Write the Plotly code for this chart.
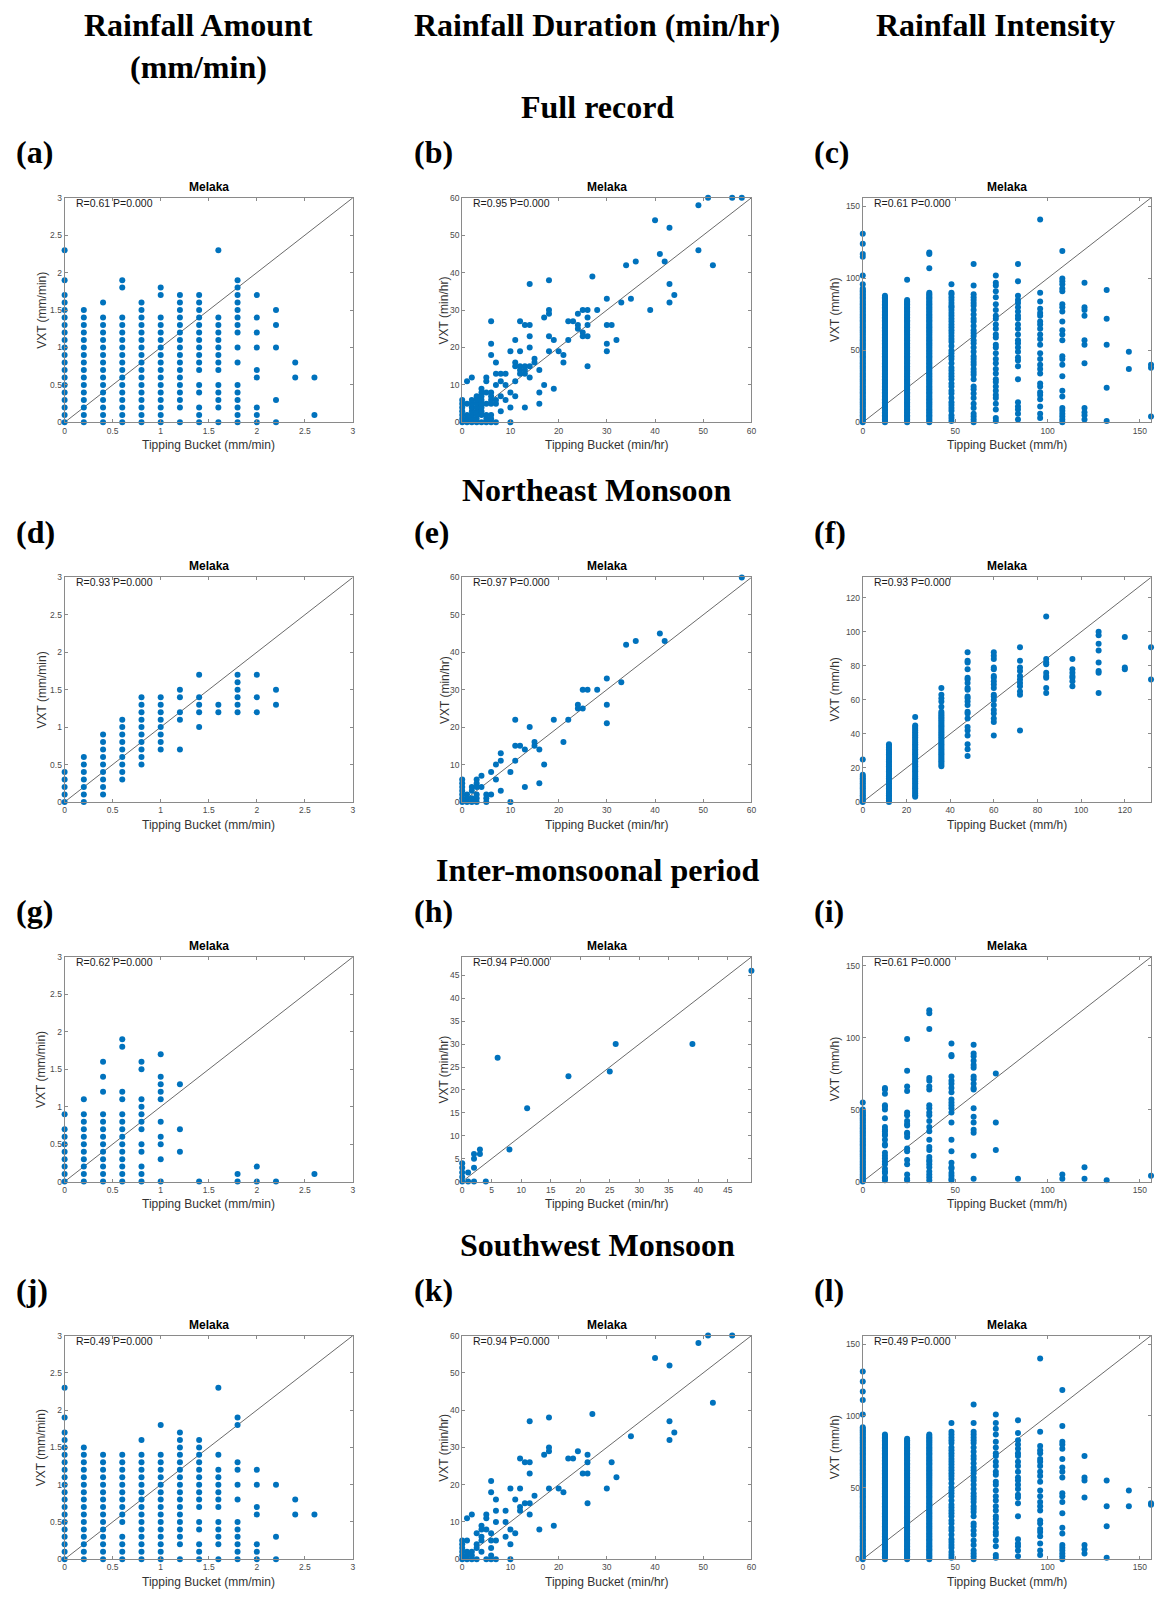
import plotly.graph_objects as go

W, H = 1159, 1597

# ---------------- Rainfall amount (mm/min) ----------------
amt_full_x = [0, 0.2, 0.4, 0.6, 0.8, 1.0, 1.2, 1.4, 1.6, 1.8, 2.0, 2.2, 2.4, 2.6]
amt_full_y = [
    [0, .1, .2, .3, .4, .5, .6, .7, .8, .9, 1, 1.1, 1.2, 1.3, 1.4, 1.5, 1.6, 1.7, 1.9, 2.3],
    [0, .1, .2, .3, .4, .5, .6, .7, .8, .9, 1, 1.1, 1.2, 1.3, 1.4, 1.5],
    [0, .1, .2, .3, .4, .5, .6, .7, .8, .9, 1, 1.1, 1.2, 1.3, 1.4, 1.6],
    [0, .1, .2, .3, .4, .5, .6, .7, .8, .9, 1, 1.1, 1.2, 1.3, 1.4, 1.8, 1.9],
    [0, .1, .2, .3, .4, .5, .6, .7, .8, .9, 1, 1.1, 1.2, 1.3, 1.4, 1.5, 1.6],
    [0, .1, .2, .3, .4, .5, .6, .7, .8, .9, 1, 1.1, 1.2, 1.3, 1.4, 1.7, 1.8],
    [0, .2, .3, .4, .5, .6, .7, .8, .9, 1, 1.1, 1.2, 1.3, 1.4, 1.5, 1.6, 1.7],
    [0, .1, .2, .4, .5, .7, .8, .9, 1, 1.1, 1.2, 1.3, 1.4, 1.5, 1.6, 1.7],
    [0, .2, .3, .4, .5, .7, .8, .9, 1, 1.1, 1.2, 1.3, 1.4, 2.3],
    [0, .1, .2, .3, .4, .5, .8, 1, 1.2, 1.3, 1.4, 1.5, 1.6, 1.7, 1.8, 1.9],
    [0, .1, .2, .6, .7, 1, 1.2, 1.4, 1.7],
    [0, .3, 1, 1.3, 1.5],
    [.6, .8],
    [.1, .6],
]
amt_ne_x = [0, 0.2, 0.4, 0.6, 0.8, 1.0, 1.2, 1.4, 1.6, 1.8, 2.0, 2.2]
amt_ne_y = [
    [0, .1, .2, .3, .4],
    [0, .1, .2, .3, .4, .5, .6],
    [.1, .2, .3, .4, .5, .6, .7, .8, .9],
    [.3, .4, .5, .6, .7, .8, .9, 1, 1.1],
    [.5, .6, .7, .8, .9, 1, 1.1, 1.2, 1.3, 1.4],
    [.7, .8, .9, 1, 1.1, 1.2, 1.3, 1.4],
    [.7, 1.1, 1.2, 1.4, 1.5],
    [1, 1.2, 1.3, 1.4, 1.7],
    [1.2, 1.3],
    [1.2, 1.3, 1.4, 1.5, 1.6, 1.7],
    [1.2, 1.4, 1.7],
    [1.3, 1.5],
]
amt_im_x = [0, 0.2, 0.4, 0.6, 0.8, 1.0, 1.2, 1.4, 1.8, 2.0, 2.2, 2.6]
amt_im_y = [
    [0, .1, .2, .3, .4, .5, .6, .7, .9],
    [0, .1, .2, .3, .4, .5, .6, .7, .8, .9, 1.1],
    [0, .1, .2, .3, .4, .5, .6, .7, .8, .9, 1.2, 1.4, 1.6],
    [0, .1, .2, .3, .4, .5, .6, .7, .8, .9, 1.1, 1.2, 1.8, 1.9],
    [0, .1, .2, .4, .5, .7, .8, .9, 1, 1.1, 1.5, 1.6],
    [0, .3, .5, .6, .8, 1.1, 1.2, 1.3, 1.4, 1.7],
    [.4, .7, 1.3],
    [0],
    [0, .1],
    [0, .2],
    [0],
    [.1],
]
amt_sw_x = [0, 0.2, 0.4, 0.6, 0.8, 1.0, 1.2, 1.4, 1.6, 1.8, 2.0, 2.2, 2.4, 2.6]
amt_sw_y = [
    [0, .1, .2, .3, .4, .5, .6, .7, .8, .9, 1, 1.1, 1.2, 1.3, 1.4, 1.5, 1.6, 1.7, 1.9, 2.3],
    [0, .1, .2, .3, .4, .5, .6, .7, .8, .9, 1, 1.1, 1.2, 1.3, 1.4, 1.5],
    [0, .1, .2, .3, .4, .5, .6, .7, .8, .9, 1, 1.1, 1.2, 1.3, 1.4],
    [0, .1, .2, .3, .5, .6, .7, .8, .9, 1, 1.1, 1.2, 1.3, 1.4],
    [0, .1, .2, .3, .4, .5, .6, .7, .8, .9, 1, 1.1, 1.2, 1.3, 1.4, 1.6],
    [0, .1, .2, .3, .4, .5, .6, .7, .8, .9, 1, 1.1, 1.2, 1.3, 1.4, 1.8],
    [0, .2, .3, .4, .5, .6, .7, .8, .9, 1, 1.1, 1.2, 1.3, 1.4, 1.5, 1.6, 1.7],
    [0, .1, .2, .4, .5, .7, .8, .9, 1, 1.1, 1.2, 1.3, 1.4, 1.5, 1.6],
    [0, .2, .3, .4, .5, .7, .8, .9, 1, 1.1, 1.2, 1.4, 2.3],
    [0, .1, .2, .3, .4, .5, .8, 1, 1.2, 1.3, 1.8, 1.9],
    [0, .1, .2, .6, .7, 1, 1.2],
    [0, .3, 1],
    [.6, .8],
    [.6],
]

# ---------------- Rainfall duration (min/hr): (tipping bucket, VXT) ----------------
dur_full_pts = [
    (49, 58), (51, 60), (56, 60), (58, 60), (40, 54), (43, 52), (49, 46), (52, 42), (41, 45), (42, 43),
    (36, 43), (34, 42), (43, 37), (44, 34), (43, 32), (39, 30), (35, 33), (33, 32), (27, 39), (30, 33),
    (28, 30), (30, 26), (31, 26), (32, 22), (30, 21), (30, 19), (25, 30), (26, 30), (24, 29), (26, 28),
    (24, 26), (26, 26), (24, 25), (25, 24), (25, 23), (26, 23), (22, 27), (23, 27), (22, 22), (26, 15),
    (21, 18), (21, 16), (20, 19), (19, 22), (18, 19), (18, 23), (18, 30), (18, 29), (18, 38), (17, 28),
    (17, 10), (19, 9), (14, 37), (12, 27), (13, 26), (14, 26), (14, 23), (14, 20), (11, 22), (12, 19),
    (10, 19), (11, 16), (11, 15), (12, 15), (13, 15), (14, 15), (15, 17), (15, 16), (12, 14), (13, 14),
    (12, 13), (13, 13), (14, 12), (16, 14), (16, 8), (16, 5), (13, 4), (11, 11), (11, 7), (10, 4),
    (10, 0), (10, 8), (6, 27), (6, 21), (6, 18), (7, 16), (7, 13), (8, 13), (9, 13), (8, 11),
    (7, 10), (9, 10), (9, 6), (8, 7), (8, 3), (1, 11), (2, 12), (5, 12), (5, 11), (4, 9),
    (4, 8), (5, 8), (6, 8), (3, 7), (4, 7),
    (0, 0), (0, 1), (0, 2), (0, 3), (0, 4), (0, 5), (0, 6), (1, 0), (1, 1), (1, 2), (1, 5),
    (2, 0), (2, 1), (2, 2), (2, 3), (2, 4), (2, 5), (2, 6), (3, 0), (3, 1), (3, 2), (3, 3), (3, 4),
    (3, 5), (3, 6), (4, 0), (4, 2), (4, 3), (4, 4), (4, 5), (4, 6), (5, 0), (5, 1), (5, 2), (5, 5),
    (6, 0), (6, 1), (6, 2), (6, 5), (6, 6), (6, 7), (7, 0), (7, 5), (7, 6),
]
dur_ne_pts = [
    (58, 60), (41, 45), (42, 43), (36, 43), (34, 42), (33, 32), (30, 33), (30, 26), (30, 21), (28, 30),
    (26, 30), (25, 30), (25, 25), (24, 26), (24, 25), (22, 22), (19, 22), (21, 16), (11, 22), (14, 20),
    (11, 15), (12, 15), (15, 16), (15, 15), (13, 14), (16, 14), (11, 11), (17, 10), (10, 8), (16, 5),
    (13, 4), (10, 0), (8, 13), (8, 11), (7, 10), (7, 6), (6, 8), (6, 2), (8, 3), (4, 7), (5, 2),
    (5, 1), (5, 0), (4, 4), (3, 6), (3, 5), (3, 4), (3, 2), (3, 1), (3, 0), (2, 4), (2, 3), (2, 1),
    (2, 0), (1, 2), (1, 1), (1, 0), (0, 0), (0, 1), (0, 2), (0, 3), (0, 4), (0, 5), (0, 6),
]
dur_im_pts = [
    (49, 46), (39, 30), (26, 30), (25, 24), (18, 23), (11, 16), (6, 27), (8, 7), (3, 7), (3, 6),
    (2, 6), (2, 5), (2, 3), (1, 2), (2, 0), (4, 0), (1, 0), (0, 0), (0, 1), (0, 2), (0, 3), (0, 4),
]
dur_sw_pts = [
    (49, 58), (51, 60), (56, 60), (40, 54), (43, 52), (52, 42), (43, 37), (44, 34), (43, 32), (35, 33),
    (27, 39), (31, 26), (32, 22), (30, 19), (24, 29), (26, 28), (26, 26), (22, 27), (23, 27), (25, 23),
    (26, 23), (26, 15), (21, 18), (20, 19), (18, 19), (18, 30), (18, 29), (18, 38), (17, 28), (19, 9),
    (16, 8), (14, 37), (12, 27), (13, 26), (14, 26), (14, 23), (12, 19), (10, 19), (11, 16), (15, 17),
    (13, 15), (14, 15), (12, 14), (12, 13), (14, 12), (11, 7), (10, 8), (10, 4), (10, 0), (6, 21),
    (6, 18), (7, 16), (7, 13), (9, 13), (9, 10), (7, 10), (9, 6), (1, 11), (2, 12), (5, 12), (5, 11),
    (0, 0), (0, 1), (0, 2), (0, 3), (0, 4), (0, 5), (1, 0), (1, 1), (1, 2), (1, 5), (2, 0), (2, 1),
    (2, 2), (3, 0), (3, 3), (3, 4), (3, 7), (4, 2), (4, 5), (4, 6), (4, 8), (4, 9), (5, 0), (5, 8),
    (6, 0), (6, 1), (6, 3), (6, 5), (6, 7), (7, 0), (7, 5),
]

# ---------------- Rainfall intensity (mm/h) ----------------
int_full_x = [0, 12, 24, 36, 48, 60, 72, 84, 96, 108, 120, 132, 144, 156]
int_full_y = [
    [0, 1, 2, 3, 4, 5, 6, 7, 8, 9, 10, 11, 12, 13, 14, 15, 16, 17, 18, 19, 20, 21, 22, 23, 24, 25, 26, 27, 28,
     29, 30, 31, 32, 33, 34, 35, 36, 37, 38, 39, 40, 41, 42, 43, 44, 45, 46, 47, 48, 49, 50, 51, 52, 53, 54,
     55, 56, 57, 58, 59, 60, 61, 62, 63, 64, 65, 66, 67, 68, 69, 70, 71, 72, 73, 74, 75, 76, 77, 78, 79, 80,
     81, 82, 83, 84, 85, 86, 87, 88, 89, 90, 91, 92, 93, 96, 102, 115, 117, 124, 131],
    [0, 1, 2, 3, 4, 5, 6, 7, 8, 9, 10, 11, 12, 13, 14, 15, 16, 17, 18, 19, 20, 21, 22, 23, 24, 25, 26, 27, 28,
     29, 30, 31, 32, 33, 34, 35, 36, 37, 38, 39, 40, 41, 42, 43, 44, 45, 46, 47, 48, 49, 50, 51, 52, 53, 54,
     55, 56, 57, 58, 59, 60, 61, 62, 63, 64, 65, 66, 67, 68, 69, 70, 71, 72, 73, 74, 75, 76, 77, 78, 79, 80,
     81, 82, 83, 84, 85, 86, 87, 88],
    [0, 1, 2, 3, 4, 5, 6, 7, 8, 9, 10, 11, 12, 13, 14, 15, 16, 17, 18, 19, 20, 21, 22, 23, 24, 25, 26, 27, 28,
     29, 30, 31, 32, 33, 34, 35, 36, 37, 38, 39, 40, 41, 42, 43, 44, 45, 46, 47, 48, 49, 50, 51, 52, 53, 54,
     55, 56, 57, 58, 59, 60, 61, 62, 63, 64, 65, 66, 67, 68, 69, 70, 71, 72, 73, 74, 75, 76, 77, 78, 79, 80,
     81, 82, 83, 84, 85, 99],
    [0, 1, 2, 3, 4, 5, 6, 7, 8, 9, 10, 11, 12, 13, 14, 15, 16, 17, 18, 19, 20, 21, 22, 23, 24, 25, 26, 27, 28,
     29, 30, 31, 32, 33, 34, 35, 36, 37, 38, 39, 40, 41, 42, 43, 44, 45, 46, 47, 48, 49, 50, 51, 52, 53, 54,
     55, 56, 57, 58, 59, 60, 61, 62, 63, 64, 65, 66, 67, 68, 69, 70, 71, 72, 73, 74, 75, 76, 77, 78, 79, 80,
     81, 82, 83, 84, 85, 86, 87, 88, 89, 90, 107, 117, 118],
    [1, 3, 5, 8, 10, 12, 14, 17, 20, 22, 25, 27, 30, 32, 34, 36, 38, 41, 44, 46, 48, 50, 53, 56, 58, 60, 62,
     64, 66, 68, 70, 72, 74, 76, 78, 80, 81, 83, 85, 87, 89, 90, 96],
    [0, 2, 4, 6, 10, 13, 17, 20, 23, 25, 30, 33, 35, 37, 40, 42, 44, 46, 49, 52, 55, 57, 60, 62, 64, 67, 70,
     72, 75, 78, 81, 83, 85, 87, 89, 95, 110],
    [1, 3, 9, 13, 17, 19, 22, 25, 28, 30, 34, 37, 41, 44, 48, 52, 54, 59, 61, 65, 68, 72, 74, 78, 82, 87, 91,
     95, 97, 102],
    [2, 6, 9, 11, 14, 30, 39, 43, 45, 49, 52, 55, 57, 61, 65, 68, 72, 74, 77, 80, 83, 85, 88, 98, 110],
    [3, 6, 11, 16, 19, 21, 25, 27, 34, 37, 40, 44, 48, 54, 58, 61, 65, 68, 70, 74, 76, 79, 84, 90, 141],
    [0, 2, 4, 6, 8, 10, 18, 22, 32, 40, 44, 46, 57, 61, 64, 70, 77, 80, 82, 91, 93, 96, 98, 100, 119],
    [2, 5, 7, 10, 41, 54, 57, 74, 78, 80, 97],
    [1, 24, 54, 72, 92],
    [37, 49],
    [4, 38, 40],
]
int_ne_x = [0, 12, 24, 36, 48, 60, 72, 84, 96, 108, 120, 132]
int_ne_y = [
    [0, 1, 2, 3, 4, 5, 6, 7, 8, 9, 10, 11, 12, 13, 14, 15, 16, 25],
    [0, 1, 2, 3, 4, 5, 6, 7, 8, 9, 10, 11, 12, 13, 14, 15, 16, 17, 18, 19, 20, 21, 22, 23, 24, 25, 26, 27, 28,
     29, 30, 31, 32, 33, 34],
    [3, 4, 5, 6, 7, 8, 9, 10, 11, 12, 13, 14, 15, 16, 17, 18, 19, 20, 21, 22, 23, 24, 25, 26, 27, 28, 29, 30,
     31, 32, 33, 34, 35, 36, 37, 38, 39, 40, 41, 42, 43, 44, 45, 50],
    [21, 22, 23, 24, 25, 26, 27, 28, 29, 30, 31, 32, 33, 34, 35, 36, 37, 38, 39, 40, 41, 42, 43, 44, 45, 46,
     47, 48, 49, 50, 51, 52, 53, 56, 59, 61, 63, 67],
    [27, 31, 34, 39, 42, 44, 49, 52, 53, 57, 59, 61, 62, 66, 67, 70, 72, 73, 78, 82, 83, 88],
    [39, 47, 49, 52, 54, 57, 60, 62, 63, 67, 69, 71, 73, 74, 78, 79, 84, 86, 88],
    [42, 63, 65, 68, 70, 72, 74, 77, 79, 83, 91],
    [64, 67, 73, 74, 76, 81, 82, 84, 109],
    [68, 71, 73, 74, 76, 78, 84],
    [64, 76, 77, 82, 89, 93, 98, 100],
    [78, 79, 97],
    [72, 91],
]
int_im_x = [0, 12, 24, 36, 48, 60, 72, 84, 108, 120, 132, 156]
int_im_y = [
    [0, 1, 2, 3, 4, 5, 6, 7, 8, 9, 10, 11, 12, 13, 14, 15, 16, 17, 18, 19, 20, 21, 22, 23, 24, 25, 26, 27, 28,
     29, 30, 31, 32, 33, 34, 35, 36, 37, 38, 39, 40, 41, 42, 43, 44, 45, 46, 47, 48, 49, 50, 55],
    [1, 2, 3, 6, 7, 9, 12, 14, 16, 18, 20, 25, 26, 29, 32, 33, 35, 36, 38, 44, 50, 52, 53, 61, 64, 65],
    [1, 2, 5, 12, 15, 21, 23, 31, 33, 34, 39, 40, 42, 46, 48, 63, 66, 77, 99],
    [1, 3, 5, 7, 10, 12, 14, 15, 17, 22, 24, 29, 35, 38, 42, 46, 48, 51, 53, 64, 66, 70, 72, 106, 117, 119],
    [1, 2, 4, 6, 9, 10, 13, 21, 29, 41, 48, 51, 53, 55, 57, 62, 65, 68, 70, 73, 87, 88, 96],
    [2, 18, 34, 36, 41, 45, 51, 64, 65, 68, 71, 73, 79, 81, 84, 87, 89, 95],
    [22, 41, 75],
    [2],
    [2, 5],
    [2, 10],
    [1],
    [4],
]
int_sw_x = [0, 12, 24, 36, 48, 60, 72, 84, 96, 108, 120, 132, 144, 156]
int_sw_y = [
    [0, 1, 2, 3, 4, 5, 6, 7, 8, 9, 10, 11, 12, 13, 14, 15, 16, 17, 18, 19, 20, 21, 22, 23, 24, 25, 26, 27, 28,
     29, 30, 31, 32, 33, 34, 35, 36, 37, 38, 39, 40, 41, 42, 43, 44, 45, 46, 47, 48, 49, 50, 51, 52, 53, 54,
     55, 56, 57, 58, 59, 60, 61, 62, 63, 64, 65, 66, 67, 68, 69, 70, 71, 72, 73, 74, 75, 76, 77, 78, 79, 80,
     81, 82, 83, 84, 85, 86, 87, 88, 89, 90, 91, 92, 101, 111, 117, 124, 131],
    [0, 1, 2, 3, 4, 5, 6, 7, 8, 9, 10, 11, 12, 13, 14, 15, 16, 17, 18, 19, 20, 21, 22, 23, 24, 25, 26, 27, 28,
     29, 30, 31, 32, 33, 34, 35, 36, 37, 38, 39, 40, 41, 42, 43, 44, 45, 46, 47, 48, 49, 50, 51, 52, 53, 54,
     55, 56, 57, 58, 59, 60, 61, 62, 63, 64, 65, 66, 67, 68, 69, 70, 71, 72, 73, 74, 75, 76, 77, 78, 79, 80,
     81, 82, 83, 84, 85, 86, 87],
    [0, 1, 2, 3, 4, 5, 6, 7, 8, 9, 10, 11, 12, 13, 14, 15, 16, 17, 18, 19, 20, 21, 22, 23, 24, 25, 26, 27, 28,
     29, 30, 31, 32, 33, 34, 35, 36, 37, 38, 39, 40, 41, 42, 43, 44, 45, 46, 47, 48, 49, 50, 51, 52, 53, 54,
     55, 56, 57, 58, 59, 60, 61, 62, 63, 64, 65, 66, 67, 68, 69, 70, 71, 72, 73, 74, 75, 76, 77, 78, 79, 80,
     81, 82, 83, 84],
    [0, 1, 2, 3, 4, 5, 6, 7, 8, 9, 10, 11, 12, 13, 14, 15, 16, 17, 18, 19, 20, 21, 22, 23, 24, 25, 26, 27, 28,
     29, 30, 31, 32, 33, 34, 35, 36, 37, 38, 39, 40, 41, 42, 43, 44, 45, 46, 47, 48, 49, 50, 51, 52, 53, 54,
     55, 56, 57, 58, 59, 60, 61, 62, 63, 64, 65, 66, 67, 68, 69, 70, 71, 72, 73, 74, 75, 76, 77, 78, 79, 80,
     81, 82, 83, 84, 85, 86, 87],
    [1, 3, 5, 8, 10, 12, 14, 17, 20, 22, 25, 27, 30, 32, 34, 36, 38, 41, 44, 46, 48, 50, 53, 56, 58, 60, 62,
     64, 66, 68, 70, 72, 74, 76, 78, 81, 83, 85, 87, 89, 95],
    [0, 2, 4, 6, 10, 13, 17, 20, 23, 25, 30, 33, 35, 37, 40, 42, 44, 46, 49, 52, 55, 57, 60, 62, 64, 67, 70,
     72, 75, 78, 81, 83, 85, 87, 89, 95, 108],
    [1, 3, 9, 13, 17, 19, 22, 25, 28, 30, 34, 37, 41, 44, 48, 52, 54, 59, 61, 65, 68, 72, 74, 78, 82, 87, 91,
     95, 101],
    [2, 6, 9, 11, 14, 30, 39, 43, 45, 49, 52, 55, 57, 61, 65, 68, 72, 74, 77, 80, 83, 88, 97],
    [3, 6, 11, 16, 19, 21, 25, 27, 34, 37, 40, 44, 48, 54, 58, 61, 65, 68, 70, 74, 76, 79, 89, 140],
    [0, 2, 4, 6, 8, 10, 18, 22, 32, 40, 44, 46, 57, 61, 64, 70, 77, 80, 82, 93, 118],
    [4, 7, 10, 43, 55, 57, 72],
    [1, 23, 37, 55],
    [37, 48],
    [38, 39],
]

stats = ["R=0.61 P=0.000", "R=0.95 P=0.000", "R=0.61 P=0.000",
         "R=0.93 P=0.000", "R=0.97 P=0.000", "R=0.93 P=0.000",
         "R=0.62 P=0.000", "R=0.94 P=0.000", "R=0.61 P=0.000",
         "R=0.49 P=0.000", "R=0.94 P=0.000", "R=0.49 P=0.000"]
letters = ["(a)", "(b)", "(c)", "(d)", "(e)", "(f)", "(g)", "(h)", "(i)", "(j)", "(k)", "(l)"]
col_headers = ["Rainfall Amount", "Rainfall Duration (min/hr)", "Rainfall Intensity"]
section_titles = ["Full record", "Northeast Monsoon", "Inter-monsoonal period", "Southwest Monsoon"]
x_titles = ["Tipping Bucket (mm/min)", "Tipping Bucket (min/hr)", "Tipping Bucket (mm/h)"]
y_titles = ["VXT (mm/min)", "VXT (min/hr)", "VXT (mm/h)"]


def from_cols(xs, ys):
    ox, oy = [], []
    for xv, col in zip(xs, ys):
        for yv in col:
            ox.append(xv)
            oy.append(yv)
    return ox, oy


def from_pts(pts):
    return [p[0] for p in pts], [p[1] for p in pts]


panel_data = [
    from_cols(amt_full_x, amt_full_y), from_pts(dur_full_pts), from_cols(int_full_x, int_full_y),
    from_cols(amt_ne_x, amt_ne_y), from_pts(dur_ne_pts), from_cols(int_ne_x, int_ne_y),
    from_cols(amt_im_x, amt_im_y), from_pts(dur_im_pts), from_cols(int_im_x, int_im_y),
    from_cols(amt_sw_x, amt_sw_y), from_pts(dur_sw_pts), from_cols(int_sw_x, int_sw_y),
]
# axis limit and tick step per panel
limits = [3, 60, 156, 3, 60, 132, 3, 49, 156, 3, 60, 156]
steps = [0.5, 10, 50, 0.5, 10, 20, 0.5, 5, 50, 0.5, 10, 50]

# layout geometry in pixels
col_px = [(63, 353), (463, 754), (866, 1156)]
row_px = [(194, 420), (576, 802), (958, 1184), (1339, 1564)]
letter_x = [12, 412, 815]
ytitle_x = [40, 445, 838]


def px(x):
    return x / W


def py(y):
    return 1 - y / H


BLUE = "#0072BD"
AX = "#8a8a8a"
SANS = "Liberation Sans, Arial, sans-serif"
SERIF = "Liberation Serif, Times New Roman, serif"
BIG = 32

fig = go.Figure()
layout = dict(
    width=W, height=H, margin=dict(l=0, r=0, t=0, b=0),
    paper_bgcolor="white", plot_bgcolor="white", showlegend=False,
)
annotations = []

for i in range(12):
    r, c = divmod(i, 3)
    k = i + 1
    xa = "x" if k == 1 else f"x{k}"
    ya = "y" if k == 1 else f"y{k}"
    xs, ys = panel_data[i]
    lim = limits[i]
    fig.add_trace(go.Scatter(x=[0, lim], y=[0, lim], mode="lines", xaxis=xa, yaxis=ya,
                             line=dict(color="#444444", width=0.8), hoverinfo="skip"))
    fig.add_trace(go.Scatter(x=xs, y=ys, mode="markers", xaxis=xa, yaxis=ya, cliponaxis=False,
                             marker=dict(color=BLUE, size=6, line=dict(width=0))))
    l, rr = col_px[c]
    t, b = row_px[r]
    common = dict(showline=True, linecolor=AX, linewidth=1, mirror="ticks", ticks="inside",
                  ticklen=3, tickcolor=AX, showgrid=False, zeroline=False,
                  range=[0, lim], tick0=0, dtick=steps[i],
                  tickfont=dict(family=SANS, size=8.5, color="#4a4a4a"))
    layout["xaxis" if k == 1 else f"xaxis{k}"] = dict(domain=[px(l), px(rr)], anchor=ya, **common)
    layout["yaxis" if k == 1 else f"yaxis{k}"] = dict(domain=[py(b), py(t)], anchor=xa, **common)

    cx = (l + rr) / 2
    annotations.append(dict(text="<b>Melaka</b>", x=px(cx), y=py(t - 11), xanchor="center", yanchor="middle",
                            font=dict(family=SANS, size=12, color="black")))
    annotations.append(dict(text=stats[i], x=px(l + 9), y=py(t + 5), xanchor="left", yanchor="middle",
                            font=dict(family=SANS, size=10.5, color="#1a1a1a")))
    annotations.append(dict(text=x_titles[c], x=px(cx), y=py(b + 23), xanchor="center", yanchor="middle",
                            font=dict(family=SANS, size=12, color="#333333")))
    annotations.append(dict(text=y_titles[c], x=px(ytitle_x[c]), y=py((t + b) / 2), xanchor="center",
                            yanchor="middle", textangle=-90, font=dict(family=SANS, size=12, color="#333333")))
    annotations.append(dict(text="<b>" + letters[i] + "</b>", x=px(letter_x[c]), y=py(t - 46), xanchor="left",
                            yanchor="middle", font=dict(family=SERIF, size=BIG, color="black")))

header_x = [198, 599, 1000]
for c in range(3):
    annotations.append(dict(text="<b>" + col_headers[c] + "</b>", x=px(header_x[c]), y=py(20),
                            xanchor="center", yanchor="middle", font=dict(family=SERIF, size=BIG, color="black")))
annotations.append(dict(text="<b>(mm/min)</b>", x=px(header_x[0]), y=py(62), xanchor="center",
                        yanchor="middle", font=dict(family=SERIF, size=BIG, color="black")))
section_y = [103, 488, 870, 1248]
for s, yv in zip(section_titles, section_y):
    annotations.append(dict(text="<b>" + s + "</b>", x=px(599), y=py(yv), xanchor="center", yanchor="middle",
                            font=dict(family=SERIF, size=BIG, color="black")))

for a in annotations:
    a.update(xref="paper", yref="paper", showarrow=False)
layout["annotations"] = annotations
fig.update_layout(**layout)
fig.write_html("out.html", config={"displayModeBar": False, "staticPlot": True},
               post_script="document.body.style.margin='0px';")
